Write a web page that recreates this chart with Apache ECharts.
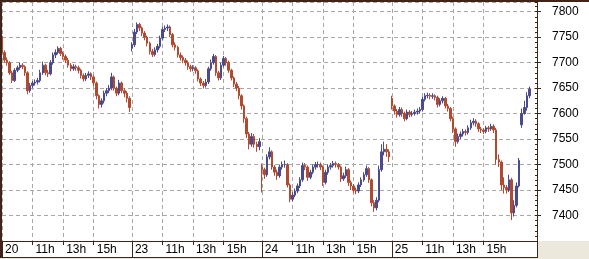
<!DOCTYPE html>
<html>
<head>
<meta charset="utf-8">
<script src="https://cdn.jsdelivr.net/npm/echarts@6/dist/echarts.min.js"></script>
<style>
html,body{margin:0;padding:0;background:#ffffff;}
#c{width:589px;height:259px;}
</style>
</head>
<body>
<div id="c"></div>
<script>
// ---- tick labels ----
const dayNames = ['20', '23', '24', '25'];
const nextDay = '26';
const hourMarks = ['11h', '13h', '15h'];

// ---- 10-minute bars [open, close, low, high] ----
const day20 = [
[7752,7720,7712,7758],[7720,7705,7700,7724],[7705,7700,7694,7710],[7700,7680,7676,7703],
[7680,7665,7660,7684],[7665,7685,7662,7689],[7685,7690,7681,7694],[7690,7695,7686,7700],
[7695,7692,7687,7699],[7692,7680,7674,7695],[7680,7645,7638,7683],[7645,7655,7641,7660],
[7655,7660,7650,7664],[7660,7662,7655,7667],[7662,7665,7657,7670],[7665,7680,7661,7686],
[7680,7695,7676,7702],[7695,7680,7675,7698],[7680,7678,7672,7686],[7678,7700,7675,7705],
[7700,7715,7696,7720],[7715,7720,7709,7726],[7720,7728,7716,7732],[7728,7718,7713,7731],
[7718,7712,7706,7722],[7712,7705,7699,7716],[7705,7695,7690,7709],[7695,7688,7683,7699],
[7688,7692,7684,7697],[7692,7690,7684,7696],[7690,7685,7679,7694],[7685,7675,7669,7688],
[7675,7668,7663,7679],[7668,7675,7664,7680],[7675,7678,7670,7683],[7678,7672,7666,7681],
[7672,7660,7654,7675],[7660,7635,7628,7663],[7635,7618,7610,7638],[7618,7625,7612,7630],
[7625,7640,7620,7645],[7640,7645,7634,7650],[7645,7650,7640,7656],[7650,7672,7646,7680],
[7672,7650,7645,7675],[7650,7640,7634,7653],[7640,7660,7636,7666],[7660,7645,7640,7663],
[7645,7640,7632,7650],[7640,7630,7622,7644],[7630,7612,7603,7634]
];
const day23 = [
[7728,7735,7722,7740],[7735,7760,7731,7766],[7760,7775,7756,7779],[7775,7768,7762,7778],
[7768,7758,7752,7771],[7758,7750,7744,7762],[7750,7738,7732,7753],[7738,7722,7716,7741],
[7722,7716,7711,7727],[7716,7725,7712,7730],[7725,7732,7720,7737],[7732,7748,7728,7753],
[7748,7765,7744,7770],[7765,7768,7760,7773],[7768,7770,7762,7775],[7770,7755,7750,7773],
[7755,7735,7730,7758],[7735,7730,7724,7740],[7730,7715,7710,7733],[7715,7710,7704,7720],
[7710,7705,7699,7714],[7705,7700,7694,7709],[7700,7692,7686,7704],[7692,7688,7682,7696],
[7688,7690,7683,7695],[7690,7684,7678,7693],[7684,7668,7663,7687],[7668,7660,7654,7671],
[7660,7655,7649,7664],[7655,7662,7651,7668],[7662,7688,7658,7692],[7688,7700,7684,7706],
[7700,7712,7696,7717],[7712,7680,7674,7715],[7680,7670,7665,7684],[7670,7695,7666,7700],
[7695,7708,7691,7713],[7708,7700,7694,7711],[7700,7685,7680,7704],[7685,7670,7665,7688],
[7670,7658,7652,7673],[7658,7650,7644,7662],[7650,7635,7628,7654],[7635,7615,7608,7638],
[7615,7590,7582,7618],[7590,7560,7552,7594],[7560,7540,7530,7564],[7540,7555,7535,7562],
[7555,7540,7533,7560],[7540,7535,7525,7545],[7535,7545,7528,7552]
];
const day24 = [
[7495,7490,7445,7502],[7490,7480,7472,7494],[7480,7515,7476,7520],[7515,7525,7510,7534],
[7525,7495,7490,7528],[7495,7485,7478,7499],[7485,7478,7470,7490],[7478,7495,7474,7500],
[7495,7500,7490,7506],[7500,7500,7494,7508],[7500,7460,7455,7503],[7460,7432,7426,7463],
[7432,7440,7428,7446],[7440,7448,7436,7453],[7448,7458,7444,7463],[7458,7470,7454,7475],
[7470,7498,7466,7504],[7498,7495,7489,7503],[7495,7475,7468,7498],[7475,7485,7471,7490],
[7485,7495,7481,7500],[7495,7500,7490,7505],[7500,7500,7494,7506],[7500,7495,7489,7504],
[7495,7465,7458,7498],[7465,7485,7461,7490],[7485,7495,7480,7500],[7495,7498,7490,7503],
[7498,7502,7494,7507],[7502,7500,7494,7506],[7500,7495,7490,7503],[7495,7472,7466,7498],
[7472,7478,7468,7484],[7478,7490,7474,7496],[7490,7465,7458,7493],[7465,7458,7450,7469],
[7458,7450,7444,7462],[7450,7448,7442,7455],[7448,7460,7444,7465],[7460,7470,7456,7475],
[7470,7480,7466,7485],[7480,7492,7476,7498],[7492,7470,7464,7495],[7470,7425,7418,7473],
[7425,7415,7407,7430],[7415,7430,7410,7436],[7430,7490,7426,7498],[7490,7525,7486,7540],
[7525,7530,7518,7545],[7530,7525,7515,7540],[7525,7515,7505,7530]
];
const day25 = [
[7630,7615,7608,7635],[7615,7605,7598,7618],[7605,7598,7592,7609],[7598,7608,7594,7613],
[7608,7600,7594,7612],[7600,7590,7585,7604],[7590,7603,7587,7608],[7603,7598,7593,7607],
[7598,7600,7594,7605],[7600,7603,7596,7608],[7603,7605,7598,7610],[7605,7608,7600,7613],
[7608,7628,7604,7633],[7628,7635,7624,7640],[7635,7636,7630,7641],[7636,7634,7628,7640],
[7634,7635,7629,7640],[7635,7632,7626,7638],[7632,7618,7612,7635],[7618,7625,7614,7630],
[7625,7630,7620,7634],[7630,7615,7610,7633],[7615,7610,7604,7619],[7610,7590,7585,7613],
[7590,7570,7562,7594],[7570,7545,7535,7573],[7545,7555,7541,7561],[7555,7560,7550,7565],
[7560,7565,7555,7570],[7565,7563,7557,7569],[7563,7572,7559,7577],[7572,7582,7568,7588],
[7582,7585,7577,7591],[7585,7580,7574,7589],[7580,7570,7564,7583],[7570,7568,7562,7574],
[7568,7565,7560,7571],[7565,7572,7561,7576],[7572,7570,7564,7576],[7570,7575,7566,7580],
[7575,7568,7562,7579],[7568,7510,7500,7572],[7510,7505,7495,7520],[7505,7460,7450,7508],
[7460,7455,7443,7475],[7455,7450,7443,7460],[7450,7470,7446,7480],[7470,7405,7391,7474],
[7405,7420,7398,7430],[7420,7458,7416,7465],[7458,7508,7455,7513]
];
const day26 = [
[7578,7600,7572,7610],[7600,7612,7598,7625],[7612,7635,7606,7642],[7635,7648,7630,7653]
];

// ---- axis categories (10-minute slots from 9:00) ----
const slotsPerDay = 51, slotsNextDay = 7;
const cats = [];
const labelOf = {};
const dayStart = {};
[...dayNames, nextDay].forEach(function (d) {
  const n = d === nextDay ? slotsNextDay : slotsPerDay;
  for (let k = 0; k < n; k++) {
    const m = 9 * 60 + k * 10;
    const hh = Math.floor(m / 60), mm = m % 60;
    const name = d + ' ' + (hh < 10 ? '0' : '') + hh + ':' + (mm < 10 ? '0' : '') + mm;
    cats.push(name);
    if (d !== nextDay) {
      if (k === 0) { labelOf[cats.length - 1] = d; dayStart[cats.length - 1] = true; }
      else if (mm === 0 && hourMarks.indexOf(hh + 'h') >= 0) labelOf[cats.length - 1] = hh + 'h';
    }
  }
});
const bars = [].concat(day20, day23, day24, day25, day26);

const dark = '#3f2419';
const isLab = function (i) { return labelOf[i] !== undefined; };
const isDay = function (i) { return dayStart[i] === true; };

const chart = echarts.init(document.getElementById('c'), null, {renderer: 'canvas'});
chart.setOption({
  animation: false,
  backgroundColor: '#ffffff',
  textStyle: {fontFamily: '"Liberation Sans", Arial, sans-serif'},
  grid: {left: 2, right: 52, top: 2, bottom: 18, show: false, containLabel: false},
  xAxis: [{
    type: 'category', data: cats, boundaryGap: false,
    axisLine: {show: true, lineStyle: {color: dark, width: 1}},
    axisTick: {show: true, interval: isLab, length: 4, lineStyle: {color: dark}},
    axisLabel: {
      show: true, interval: isLab, align: 'left', verticalAlign: 'top', margin: 3,
      padding: [0, 0, 0, 3], color: '#000', fontSize: 12,
      formatter: function (v, i) { return labelOf[i] || ''; }
    },
    splitLine: {show: true, interval: isLab, lineStyle: {color: '#a8a8a8', type: [4, 3], width: 1}}
  }, {
    type: 'category', data: cats, boundaryGap: false, position: 'bottom',
    axisLine: {show: false},
    axisTick: {show: true, interval: isDay, length: 16, lineStyle: {color: dark}},
    axisLabel: {show: false}, splitLine: {show: false}
  }],
  yAxis: [{
    type: 'value', position: 'right', min: 7350, max: 7819, interval: 50, scale: true,
    axisLine: {show: true, lineStyle: {color: dark, width: 1}},
    axisTick: {show: true, length: 4, lineStyle: {color: dark}},
    axisLabel: {show: true, margin: 15, color: '#000', fontSize: 12, showMinLabel: false, showMaxLabel: false,
      formatter: function (v) { return String(v); }},
    splitLine: {show: true, lineStyle: {color: '#a8a8a8', type: [4, 3], width: 1}}
  }, {
    type: 'value', position: 'right', min: 7350, max: 7819, interval: 10, scale: true,
    axisLine: {show: false},
    axisTick: {show: true, inside: true, length: 2, lineStyle: {color: dark}},
    axisLabel: {show: false}, splitLine: {show: false}
  }],
  series: [{
    type: 'candlestick', xAxisIndex: 0, yAxisIndex: 0,
    data: bars, barWidth: 2,
    itemStyle: {color: '#4a4a8c', color0: '#b24a30', borderColor: '#4a4a8c', borderColor0: '#b24a30', borderWidth: 1}
  }],
  graphic: [
    {type: 'rect', shape: {x: 537, y: 241, width: 52, height: 18}, style: {fill: '#ece9dc'}, z: 100},
    {type: 'rect', shape: {x: 0, y: 257.5, width: 537, height: 2}, style: {fill: '#ece9dc'}, z: 100},
    {type: 'rect', shape: {x: 0, y: 0, width: 589, height: 2}, style: {fill: dark}, z: 100},
    {type: 'rect', shape: {x: 0, y: 0, width: 2, height: 258}, style: {fill: dark}, z: 100},
    {type: 'line', shape: {x1: 0, y1: 257.5, x2: 537.5, y2: 257.5}, style: {stroke: dark, lineWidth: 1}, z: 100},
    {type: 'line', shape: {x1: 537.5, y1: 241, x2: 537.5, y2: 258}, style: {stroke: dark, lineWidth: 1}, z: 100}
  ]
});
</script>
</body>
</html>
